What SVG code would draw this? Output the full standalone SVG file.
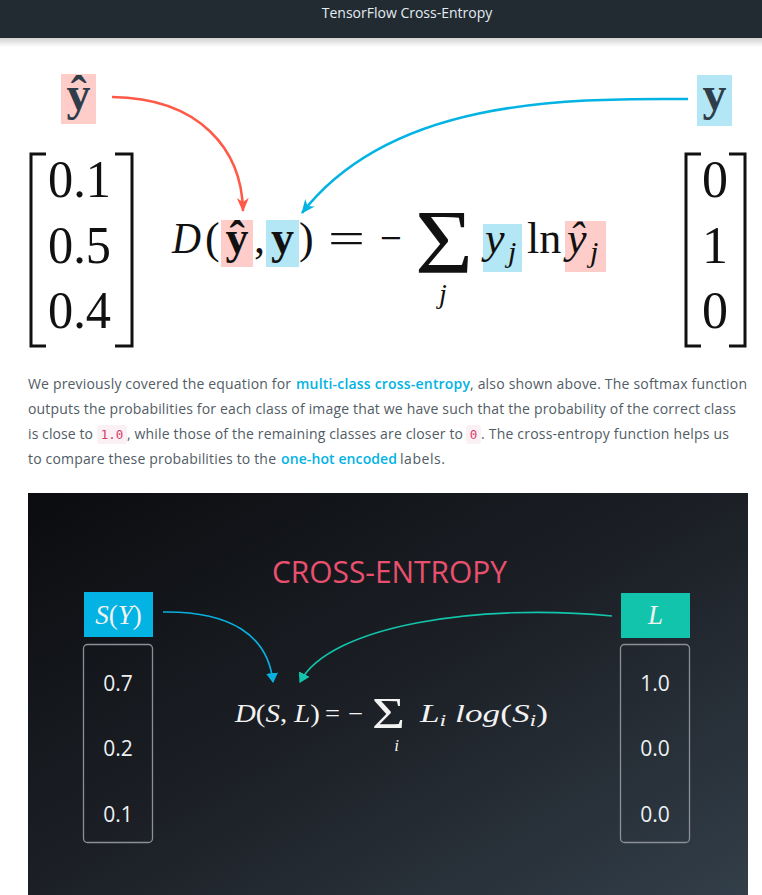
<svg xmlns="http://www.w3.org/2000/svg" width="762" height="895" viewBox="0 0 762 895">
<style>
.serif{font-family:"Liberation Serif","Times New Roman",serif}
.it{font-style:italic}
.bd{font-weight:bold}
.sans{font-family:"Open Sans","Noto Sans","Liberation Sans",sans-serif}
.para{font-family:"Open Sans","Noto Sans","Liberation Sans",sans-serif;font-size:14px;fill:#525c65}
.link{fill:#02b3e4;font-weight:600}
.code{font-family:"DejaVu Sans Mono","Liberation Mono",monospace;font-size:12.5px;fill:#d63c6a}
.codebg{fill:#fbf0f3}
.br{fill:none;stroke:#111;stroke-width:3}
.mtx{font-family:"Liberation Serif","Times New Roman",serif;font-size:52px;fill:#111}
.eq{font-family:"Liberation Serif","Times New Roman",serif;fill:#111}
.pink{fill:#ffcdc9}
.blue{fill:#b3e7f5}
.val{font-family:"Open Sans","Noto Sans","Liberation Sans",sans-serif;font-size:21px;fill:#eef0f2;text-anchor:middle}
.vbox{fill:none;stroke:#8b9097;stroke-width:1.3}
.wm{font-family:"Liberation Serif","Times New Roman",serif;fill:#f2f2f2}
</style>
<defs>
<linearGradient id="hdrShadow" x1="0" y1="0" x2="0" y2="1">
<stop offset="0" stop-color="#000" stop-opacity="0.18"/>
<stop offset="1" stop-color="#000" stop-opacity="0"/>
</linearGradient>
<linearGradient id="dark" x1="0" y1="0" x2="1" y2="1">
<stop offset="0" stop-color="#0b0c0f"/>
<stop offset="0.5" stop-color="#1c2026"/>
<stop offset="1" stop-color="#323e49"/>
</linearGradient>
<marker id="ahRed" viewBox="0 0 14 12" refX="13" refY="6" markerWidth="14" markerHeight="12" markerUnits="userSpaceOnUse" orient="auto">
<path d="M0,0 L14,6 L0,12 L4,6 z" fill="#ff5a47"/>
</marker>
<marker id="ahBlue" viewBox="0 0 14 12" refX="13" refY="6" markerWidth="14" markerHeight="12" markerUnits="userSpaceOnUse" orient="auto">
<path d="M0,0 L14,6 L0,12 L4,6 z" fill="#03b3e3"/>
</marker>
<marker id="ahCyan" viewBox="0 0 10 12" refX="9" refY="6" markerWidth="10" markerHeight="12" markerUnits="userSpaceOnUse" orient="auto">
<path d="M0,0 L10,6 L0,12 z" fill="#0ab0dd"/>
</marker>
<marker id="ahTeal" viewBox="0 0 10 12" refX="9" refY="6" markerWidth="10" markerHeight="12" markerUnits="userSpaceOnUse" orient="auto">
<path d="M0,0 L10,6 L0,12 z" fill="#12c5ac"/>
</marker>
</defs>

<rect width="762" height="895" fill="#ffffff"/>

<g id="header">
<rect x="0" y="0" width="762" height="38" fill="#222b32"/>
<rect x="0" y="38" width="762" height="9" fill="url(#hdrShadow)"/>
<text x="407" y="18" text-anchor="middle" class="sans" font-size="14" fill="#e4ecf1">TensorFlow Cross-Entropy</text>
</g>

<g id="label-yhat">
<rect x="61" y="74" width="35" height="50" class="pink"/>
<text x="78.5" y="110" text-anchor="middle" class="serif bd" font-size="48" fill="#2e3d49">ŷ</text>
</g>
<g id="label-y">
<rect x="697" y="75" width="35" height="51" class="blue"/>
<text x="714.5" y="110" text-anchor="middle" class="serif bd" font-size="48" fill="#2e3d49">y</text>
</g>

<g id="matrix-pred">
<path class="br" d="M46,154 H31 V346 H46"/>
<path class="br" d="M115,154 H132 V346 H115"/>
<text x="48" y="197" class="mtx" textLength="63" lengthAdjust="spacingAndGlyphs">0.1</text>
<text x="48" y="263" class="mtx" textLength="63" lengthAdjust="spacingAndGlyphs">0.5</text>
<text x="48" y="328" class="mtx" textLength="63" lengthAdjust="spacingAndGlyphs">0.4</text>
</g>

<g id="matrix-label">
<path class="br" d="M701,154 H686 V346 H701"/>
<path class="br" d="M729,154 H745 V346 H729"/>
<text x="715" y="197" text-anchor="middle" class="mtx">0</text>
<text x="715" y="263" text-anchor="middle" class="mtx">1</text>
<text x="715" y="328" text-anchor="middle" class="mtx">0</text>
</g>

<g id="equation-top" font-size="44">
<rect x="221" y="220" width="32" height="47" class="pink"/>
<rect x="266" y="220" width="33" height="47" class="blue"/>
<rect x="483" y="224" width="39" height="48" class="blue"/>
<rect x="565" y="221" width="41" height="51" class="pink"/>
<text x="172" y="253" class="eq it" textLength="29" lengthAdjust="spacingAndGlyphs">D</text>
<text x="205" y="253" class="eq">(</text>
<text x="237" y="253" text-anchor="middle" class="eq bd" font-size="46">ŷ</text>
<text x="254" y="253" class="eq">,</text>
<text x="282.5" y="253" text-anchor="middle" class="eq bd" font-size="46">y</text>
<text x="299" y="253" class="eq">)</text>
<text x="328" y="253" class="eq" textLength="37" lengthAdjust="spacingAndGlyphs">=</text>
<text x="380" y="253" class="eq" textLength="22" lengthAdjust="spacingAndGlyphs">−</text>
<text x="415" y="273" class="eq" font-size="92" textLength="58" lengthAdjust="spacingAndGlyphs">Σ</text>
<text x="443" y="303" text-anchor="middle" class="eq it" font-size="28">j</text>
<text x="485" y="253" class="eq it">y</text>
<text x="508" y="262" class="eq it" font-size="30">j</text>
<text x="527" y="253" class="eq">ln</text>
<text x="567" y="253" class="eq it">ŷ</text>
<text x="590" y="262" class="eq it" font-size="30">j</text>
</g>

<g id="connectors-top">
<path d="M112,97 C200,98 242,150 243,211" fill="none" stroke="#ff5a47" stroke-width="2.5" marker-end="url(#ahRed)"/>
<path d="M688,99 C560,98 390,100 302,213" fill="none" stroke="#03b3e3" stroke-width="2.5" marker-end="url(#ahBlue)"/>
</g>

<g id="paragraph">
<text x="28" y="389" class="para" textLength="263" lengthAdjust="spacing">We previously covered the equation for</text>
<text x="296" y="389" class="para link" textLength="174" lengthAdjust="spacing">multi-class cross-entropy</text>
<text x="470" y="389" class="para" textLength="277" lengthAdjust="spacing">, also shown above. The softmax function</text>
<text x="28" y="414" class="para" textLength="708" lengthAdjust="spacing">outputs the probabilities for each class of image that we have such that the probability of the correct class</text>
<text x="28" y="439" class="para" textLength="65" lengthAdjust="spacing">is close to</text>
<rect x="97" y="425" width="30" height="19" rx="3" class="codebg"/>
<text x="112" y="439" class="code" text-anchor="middle">1.0</text>
<text x="127" y="439" class="para" textLength="336" lengthAdjust="spacing">, while those of the remaining classes are closer to</text>
<rect x="466" y="425" width="15" height="19" rx="3" class="codebg"/>
<text x="473.5" y="439" class="code" text-anchor="middle">0</text>
<text x="481" y="439" class="para" textLength="248" lengthAdjust="spacing">. The cross-entropy function helps us</text>
<text x="28" y="464" class="para" textLength="248" lengthAdjust="spacing">to compare these probabilities to the</text>
<text x="281" y="464" class="para link" textLength="116" lengthAdjust="spacing">one-hot encoded</text>
<text x="400" y="464" class="para" textLength="45" lengthAdjust="spacing">labels.</text>
</g>

<g id="figure-bottom">
<rect x="28" y="493" width="720" height="402" fill="url(#dark)"/>
<text x="272" y="583" class="sans" font-size="31" fill="#e9506f" textLength="235" lengthAdjust="spacingAndGlyphs">CROSS-ENTROPY</text>
</g>

<g id="node-SY">
<rect x="84" y="592" width="69" height="45" fill="#02b3e4"/>
<text x="118.5" y="624" text-anchor="middle" class="wm" font-size="27"><tspan class="it">S</tspan>(<tspan class="it">Y</tspan>)</text>
</g>
<g id="node-S-values">
<rect x="83.5" y="644.5" width="69" height="198" rx="4" class="vbox"/>
<text x="118" y="691" class="val">0.7</text>
<text x="118" y="756" class="val">0.2</text>
<text x="118" y="822" class="val">0.1</text>
</g>
<g id="node-L">
<rect x="621" y="593" width="69" height="45" fill="#13c4ad"/>
<text x="655.5" y="624" text-anchor="middle" class="wm it" font-size="27">L</text>
</g>
<g id="node-L-values">
<rect x="620.5" y="644.5" width="69" height="198" rx="4" class="vbox"/>
<text x="655" y="691" class="val">1.0</text>
<text x="655" y="756" class="val">0.0</text>
<text x="655" y="822" class="val">0.0</text>
</g>

<g id="equation-bottom">
<text x="235" y="722" class="wm" font-size="25" textLength="85" lengthAdjust="spacingAndGlyphs"><tspan class="it">D</tspan>(<tspan class="it">S</tspan>, <tspan class="it">L</tspan>)</text>
<text x="325" y="722" class="wm" font-size="25" textLength="15" lengthAdjust="spacingAndGlyphs">=</text>
<text x="348" y="722" class="wm" font-size="25" textLength="15" lengthAdjust="spacingAndGlyphs">−</text>
<text x="372" y="728" class="wm" font-size="44" textLength="33" lengthAdjust="spacingAndGlyphs">Σ</text>
<text x="396.5" y="751" text-anchor="middle" class="wm it" font-size="17">i</text>
<text x="420" y="722" class="wm" font-size="25" textLength="128" lengthAdjust="spacingAndGlyphs"><tspan class="it">L</tspan><tspan class="it" font-size="17" dy="4">i</tspan><tspan class="it" dy="-4"> log</tspan>(<tspan class="it">S</tspan><tspan class="it" font-size="17" dy="4">i</tspan><tspan dy="-4">)</tspan></text>
</g>

<g id="connectors-bottom">
<path d="M163,612 C230,611 268,635 273,682" fill="none" stroke="#0ab0dd" stroke-width="1.6" marker-end="url(#ahCyan)"/>
<path d="M612,616 C480,603 330,625 300,682" fill="none" stroke="#12c5ac" stroke-width="1.6" marker-end="url(#ahTeal)"/>
</g>
</svg>
